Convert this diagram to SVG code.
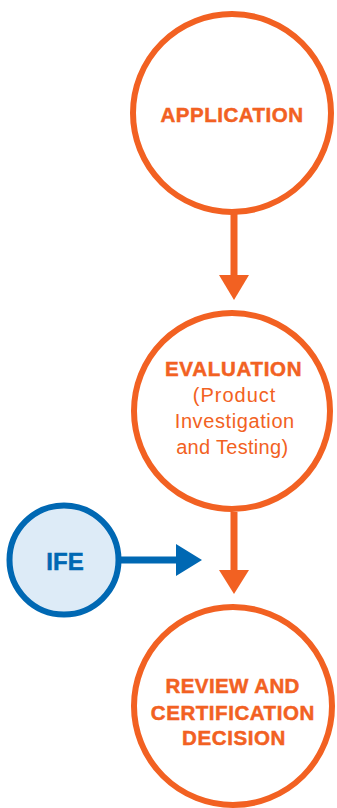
<svg xmlns="http://www.w3.org/2000/svg" width="337" height="808" viewBox="0 0 337 808">
  <defs>
    <style>
      .node { fill: #ffffff; stroke: #F26122; stroke-width: 6; }
      .ife { fill: #DDEBF7; stroke: #0068B3; stroke-width: 6; }
      .t { font-family: "Liberation Sans", Arial, sans-serif; font-size: 20px; text-anchor: middle; fill: #F26122; letter-spacing: 0.6px; }
      .b { font-weight: bold; font-size: 20.5px; stroke: #F26122; stroke-width: 0.5; letter-spacing: 0.5px; }
      .o-line { stroke: #F26122; stroke-width: 7; fill: none; }
      .b-line { stroke: #0068B3; stroke-width: 7; fill: none; }
    </style>
  </defs>
  <rect width="337" height="808" fill="#ffffff"/>
  <g id="connectors">
    <line class="o-line" x1="234" y1="214" x2="234" y2="277"/>
    <polygon points="219,275 249,275 234,300" fill="#F26122"/>
    <line class="o-line" x1="234" y1="512" x2="234" y2="572"/>
    <polygon points="219,570 249,570 234,594" fill="#F26122"/>
    <line class="b-line" x1="120" y1="560" x2="178" y2="560"/>
    <polygon points="176,544 176,576 202,560" fill="#0068B3"/>
  </g>
  <g id="application">
    <circle class="node" cx="232" cy="113" r="99"/>
    <text class="t b" x="232" y="122.3">APPLICATION</text>
  </g>
  <g id="evaluation">
    <circle class="node" cx="232" cy="411" r="98"/>
    <text class="t b" x="233.6" y="375.7" style="letter-spacing:0.7px">EVALUATION</text>
    <text class="t" x="234.6" y="402.3" style="letter-spacing:1px">(Product</text>
    <text class="t" x="234.8" y="428">Investigation</text>
    <text class="t" x="232.3" y="454" style="letter-spacing:0.3px">and Testing)</text>
  </g>
  <g id="ife">
    <circle class="ife" cx="64" cy="560" r="54.5"/>
    <text class="t b" x="65" y="570" style="fill:#0068B3;stroke:#0068B3;font-size:24px;letter-spacing:0">IFE</text>
  </g>
  <g id="review">
    <circle class="node" cx="233" cy="706" r="99"/>
    <text class="t b" x="232.7" y="693" style="letter-spacing:0.4px">REVIEW AND</text>
    <text class="t b" x="232.8" y="719.5" style="letter-spacing:0.55px">CERTIFICATION</text>
    <text class="t b" x="234" y="744.5" style="letter-spacing:0.6px">DECISION</text>
  </g>
</svg>
